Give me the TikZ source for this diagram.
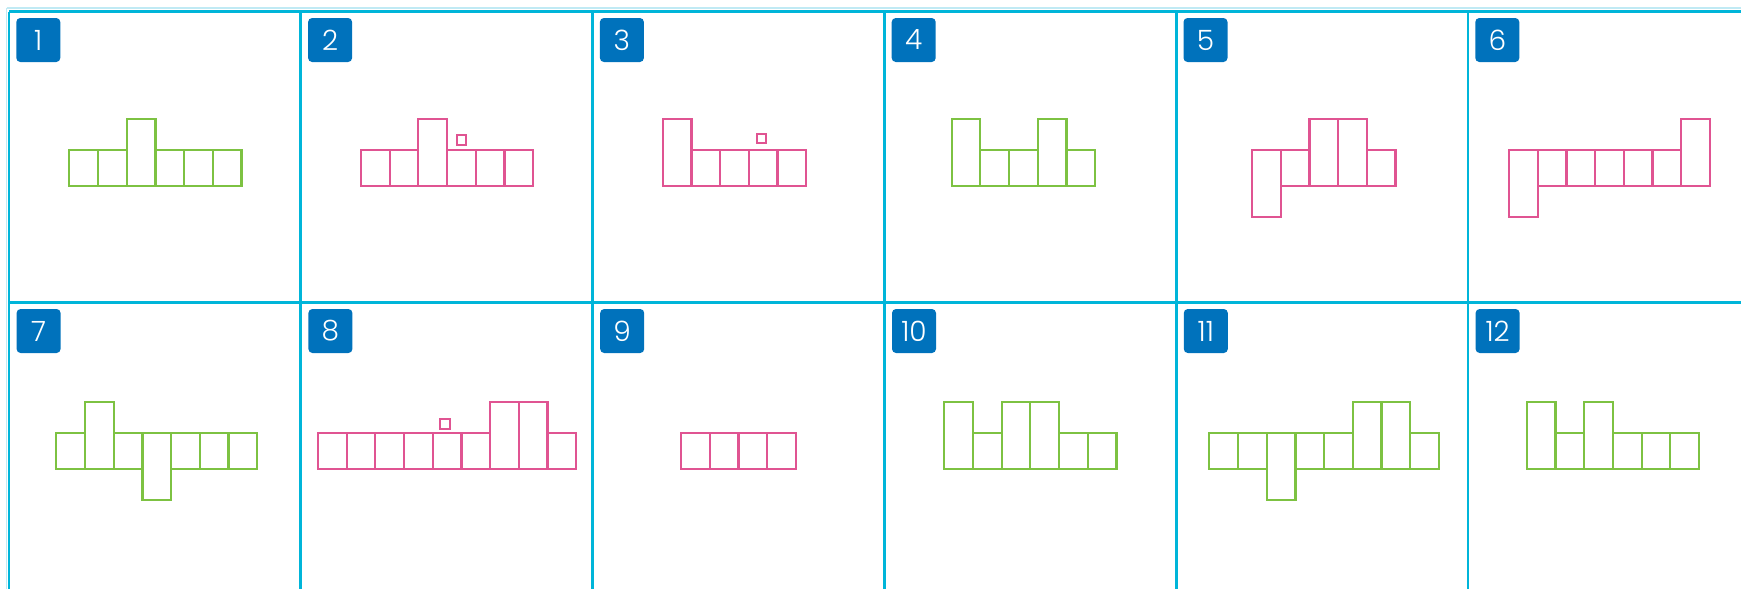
\documentclass[tikz,border=0pt]{standalone}
\usepackage{fontspec}
\setmainfont{Poppins}
\newfontfamily\badgefont{Poppins Light}
\definecolor{framecyan}{RGB}{0,181,217}
\definecolor{ghostcyan}{RGB}{192,234,244}
\definecolor{badgeblue}{RGB}{0,114,188}
\definecolor{netgreen}{RGB}{125,194,66}
\definecolor{netpink}{RGB}{224,84,146}
\tikzset{
  frameline/.style={draw=framecyan, line width=1.4pt},
  ghostline/.style={draw=ghostcyan, line width=0.9pt},
  badge/.style={fill=badgeblue, rounded corners=2pt, minimum size=22pt,
    inner sep=0pt, text=white, font=\badgefont\fontsize{14}{14}\selectfont},
  greennet/.style={draw=netgreen, line width=1.1pt},
  pinknet/.style={draw=netpink, line width=1.1pt},
  dotbox/.style={draw=netpink, line width=1pt}
}
% one strip of cells: 0 small, 1 tall up, 2 tall down
\newcommand{\cellrow}[4]{%
  \foreach \kind [count=\ix from 0] in {#4} {
    \pgfmathsetmacro{\up}{35.7+31.3*(\kind==1)}
    \pgfmathsetmacro{\dn}{31.3*(\kind==2)}
    \draw[#1] (#2+\ix*28.7, #3-\up) rectangle (#2+\ix*28.7+28.7, #3+\dn);
  }}
\begin{document}
\begin{tikzpicture}[x=0.5pt,y=-0.5pt]
\useasboundingbox (0,0) rectangle (1741,589);
\clip (0,0) rectangle (1741,589);
\draw[ghostline] (6.5,8) -- (1741,8);
\draw[ghostline] (6.5,8) -- (6.5,589);
\foreach \k in {0,...,5} \draw[frameline] (9+291.8*\k,11.7) -- (9+291.8*\k,589);
\draw[frameline] (9,11.7) -- (1741,11.7);
\draw[frameline] (9,302.5) -- (1741,302.5);
\foreach \n [count=\k from 0] in {1,...,6} \node[badge] (b\n) at (38.3+291.8*\k,40) {\n};
\foreach \n [count=\k from 0] in {7,...,12} \node[badge] (b\n) at (38.6+291.8*\k,331) {\n};
\cellrow{greennet}{69.3}{186}{0,0,1,0,0,0}
\cellrow{pinknet}{360.9}{186}{0,0,1,0,0,0}
\cellrow{pinknet}{662.7}{186}{1,0,0,0,0}
\cellrow{greennet}{951.6}{186}{1,0,0,1,0}
\cellrow{pinknet}{1252}{186}{2,0,1,1,0}
\cellrow{pinknet}{1509}{186}{2,0,0,0,0,0,1}
\cellrow{greennet}{56.3}{468.7}{0,1,0,2,0,0,0}
\cellrow{pinknet}{317.9}{468.7}{0,0,0,0,0,0,1,1,0}
\cellrow{pinknet}{681.1}{468.7}{0,0,0,0}
\cellrow{greennet}{944.2}{468.7}{1,0,1,1,0,0}
\cellrow{greennet}{1209.3}{468.7}{0,0,2,0,0,1,1,0}
\cellrow{greennet}{1526.8}{468.7}{1,0,1,0,0,0}
\draw[dotbox] (456.6,135) rectangle ++(9.5,9.5);
\draw[dotbox] (756.8,133.5) rectangle ++(9.5,9.5);
\draw[dotbox] (440.4,419) rectangle ++(9.5,9.5);
\end{tikzpicture}
\end{document}
